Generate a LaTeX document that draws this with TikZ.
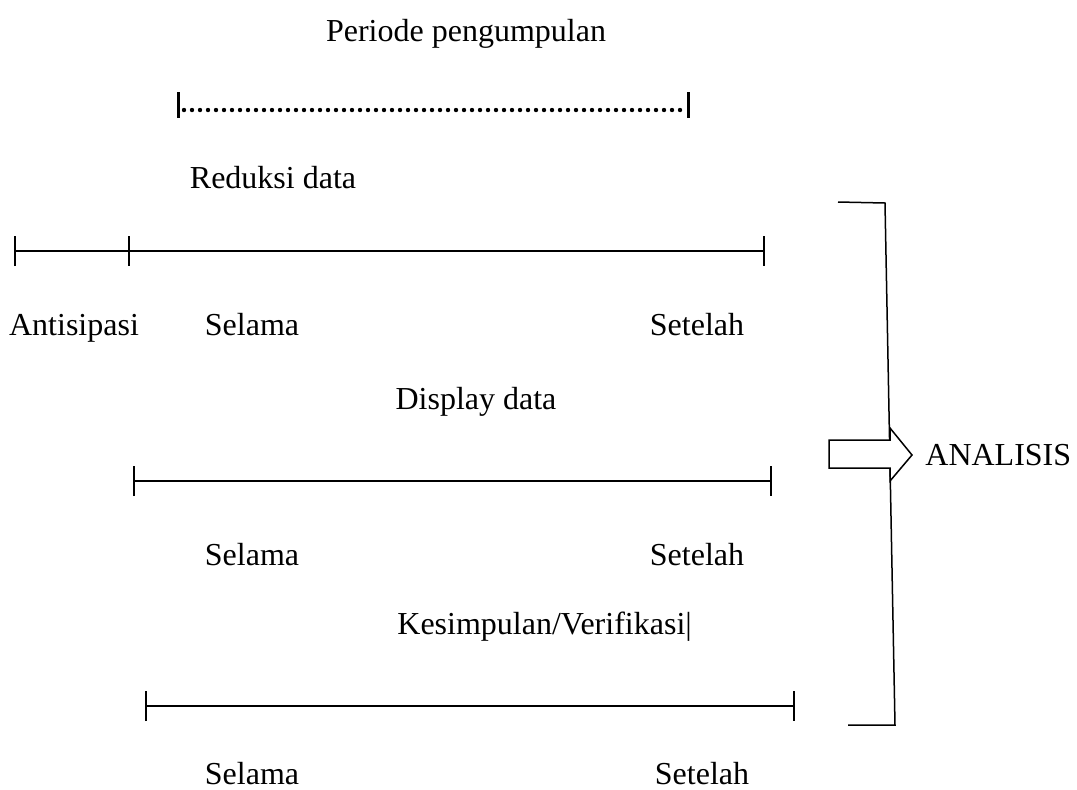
\documentclass[tikz,border=0pt]{standalone}
\usepackage{fontspec}
\setmainfont{Liberation Serif}
\usetikzlibrary{arrows.meta,positioning,calc}

\tikzset{
    lbl/.style={anchor=base,inner sep=0pt,font=\fontsize{16}{19}\selectfont},
    interval/.style={line width=0.75pt,{Bar[width=15pt,line width=1pt]}-{Bar[width=15pt,line width=1pt]}},
    intervalend/.style={line width=0.75pt,-{Bar[width=15pt,line width=1pt]}},
    bracket/.style={line width=0.75pt},
}

\begin{document}
\begin{tikzpicture}[x=0.5pt,y=-0.5pt]
    \useasboundingbox (0,0) rectangle (1077,789);

    % Periode pengumpulan
    \node[lbl] (periode) at (466,41) {Periode pengumpulan};
    \coordinate (pA) at (178,105);
    \coordinate (pB) at (688,105);
    \draw[line width=1.5pt] ($(pA)+(0,-13)$) -- ($(pA)+(0,13)$);
    \draw[line width=1.5pt] ($(pB)+(0,-13)$) -- ($(pB)+(0,13)$);
    \draw[line width=2.2pt,line cap=round,dash pattern=on 0pt off 4pt]
        ($(pA)+(6,5)$) -- ($(pB)+(-5,5)$);

    % Reduksi data
    \node[lbl] (reduksi) at (273,188) {Reduksi data};
    \coordinate (r0) at (14,251);
    \coordinate (r1) at (130,251);
    \coordinate (r2) at (765,251);
    \draw[interval] (r0) -- (r1);
    \draw[intervalend] (r1) -- (r2);
    \node[lbl] (antisipasi) at (74,335) {Antisipasi};
    \node[lbl] (selama1) at (252,335) {Selama};
    \node[lbl] (setelah1) at (697,335) {Setelah};

    % Display data
    \node[lbl] (display) at (476,409) {Display data};
    \coordinate (d1) at (133,481);
    \coordinate (d2) at (772,481);
    \draw[interval] (d1) -- (d2);
    \node[lbl] (selama2) at (252,565) {Selama};
    \node[lbl] (setelah2) at (697,565) {Setelah};

    % Kesimpulan/Verifikasi
    \node[lbl,anchor=base west] (kesimpulan) at (397,634) {Kesimpulan/Verifikasi|};
    \coordinate (k1) at (145,706);
    \coordinate (k2) at (795,706);
    \draw[interval] (k1) -- (k2);
    \node[lbl] (selama3) at (252,784) {Selama};
    \node[lbl] (setelah3) at (702,784) {Setelah};

    % Bracket and arrow
    \coordinate (bTop) at (838,202);
    \coordinate (bBot) at (848,725);
    \draw[bracket] (bTop) -- (885,203) -- (895,725) -- (bBot);
    \node[lbl,anchor=west] (analisis) at (925,455) {ANALISIS};
    \draw[bracket,fill=white] (829,440) -- (890,440) -- (890,428) -- (912,455)
        -- (890,481) -- (890,468) -- (829,468) -- cycle;
\end{tikzpicture}
\end{document}
